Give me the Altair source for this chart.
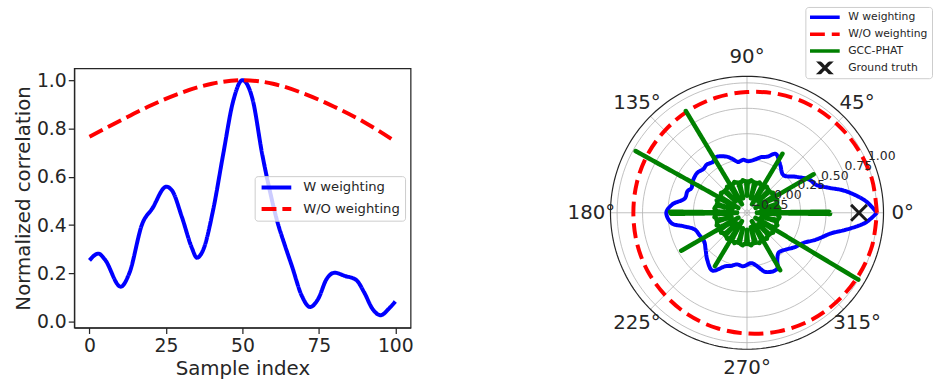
import altair as alt
import pandas as pd

INK = "#262626"
FONT = "DejaVu Sans"

# ---------------- left panel: correlation along the sample axis ----------------
w_idx = [0, 2.9, 5, 10.2, 13, 17.3, 20.5, 25.1, 27, 30.2, 33.5, 35.1, 37.2, 40.4,
         43.7, 46.9, 50, 53.3, 56.5, 59.2, 61.3, 64, 66.2, 69.4, 72.1, 74.8, 77.5,
         80.2, 83.4, 87.2, 89.8, 92.5, 95.2, 97.9, 100]
w_val = [0.254, 0.282, 0.258, 0.145, 0.2, 0.407, 0.468, 0.559, 0.543, 0.434, 0.305,
         0.265, 0.298, 0.461, 0.692, 0.909, 1.0, 0.922, 0.692, 0.529, 0.42, 0.312,
         0.23, 0.108, 0.061, 0.095, 0.176, 0.203, 0.19, 0.173, 0.122, 0.054, 0.027,
         0.054, 0.084]
wo_idx = [0, 10, 20, 30, 40, 50, 60, 70, 80, 90, 100]
wo_val = [0.766, 0.832, 0.895, 0.948, 0.985, 1.0, 0.985, 0.945, 0.89, 0.825, 0.746]

x_ticks = [0, 25, 50, 75, 100]
y_ticks = [0.0, 0.2, 0.4, 0.6, 0.8, 1.0]

# ---------------- right panel: polar response (angle in degrees) ----------------
pw_ang = [0, 5.6, 12.5, 17, 22, 27.9, 36, 46, 55, 64, 70, 76, 82, 89, 94, 99.8,
          105, 110, 119.4, 124, 129.7, 135, 141, 150, 156, 160, 167, 173.5, 180,
          188, 192, 198, 205, 214, 222, 230, 239, 248, 253, 259, 266, 275, 281,
          287.6, 298, 303, 308.6, 317.4, 324, 331.7, 338.7, 346.5, 350, 355.3, 360]
pw_val = [1.0, 0.896, 0.712, 0.564, 0.456, 0.418, 0.324, 0.238, 0.294, 0.367, 0.31,
          0.286, 0.25, 0.23, 0.245, 0.23, 0.27, 0.31, 0.35, 0.325, 0.34, 0.33, 0.35,
          0.34, 0.32, 0.345, 0.35, 0.46, 0.516, 0.47, 0.36, 0.26, 0.24, 0.23, 0.27,
          0.33, 0.385, 0.29, 0.27, 0.24, 0.25, 0.22, 0.26, 0.334, 0.35, 0.27, 0.223,
          0.254, 0.3, 0.35, 0.45, 0.58, 0.70, 0.894, 1.0]

pwo_ang = [0, 15, 30, 45, 60, 75, 90, 105, 120, 135, 150, 165, 180,
           195, 210, 225, 240, 255, 270, 285, 300, 315, 330, 345, 360]
pwo_val = [1.0, 0.995, 0.98, 0.965, 0.95, 0.93, 0.91, 0.895, 0.88, 0.865, 0.855, 0.845, 0.84,
           0.845, 0.855, 0.865, 0.88, 0.895, 0.91, 0.93, 0.95, 0.965, 0.98, 0.995, 1.0]

gcc_ang = [0, 0.8, 1.4, 5, 7.5, 10,
           13.5, 15, 16.5, 20, 22.5, 25,
           28, 29.5, 30, 30.5, 32, 35, 37.5, 40,
           43.5, 45, 46.5, 50, 52.5, 55,
           57, 58.5, 59, 59.5, 61, 65, 67.5, 70,
           73.5, 75, 76.5, 80, 82.5, 85,
           88.5, 90, 91.5, 95, 97.5, 100,
           103.5, 105, 106.5, 110, 112.5, 116,
           119, 120.5, 121, 121.5, 123, 125, 127.5, 130,
           133.5, 135, 136.5, 140, 142.5, 146,
           149, 150.5, 151, 151.5, 153, 155, 157.5, 160,
           163.5, 165, 166.5, 170, 172.5, 175,
           177.5, 178.6, 179.2, 180.8, 181.4, 182.5, 185, 187.5, 190,
           193.5, 195, 196.5, 200, 202.5, 205,
           208, 209.5, 210, 210.5, 212, 215, 217.5, 220,
           223.5, 225, 226.5, 230, 232.5, 235,
           237, 238.5, 239, 239.5, 241, 245, 247.5, 250,
           253.5, 255, 256.5, 260, 262.5, 265,
           268.5, 270, 271.5, 275, 277.5, 280,
           283.5, 285, 286.5, 290, 292.5, 296,
           298, 299.5, 300, 300.5, 302, 305, 307.5, 310,
           313.5, 315, 316.5, 320, 322.5, 325,
           327, 328.5, 329, 329.5, 331, 335, 337.5, 340,
           343.5, 345, 346.5, 350, 352.5, 355,
           357.5, 358.6, 359.2, 360]
gcc_val = [0.54, 0.53, -0.18, 0.03, 0.045, 0.035,
           0.03, -0.13, 0.03, 0.035, 0.045, 0.03,
           0.03, -0.18, 0.48, -0.18, 0.03, 0.035, 0.045, 0.03,
           0.03, -0.12, 0.03, 0.035, 0.045, 0.03,
           0.03, -0.18, 0.40, -0.18, 0.03, 0.035, 0.045, 0.03,
           0.03, -0.13, 0.03, 0.035, 0.045, 0.03,
           0.03, -0.11, 0.03, 0.035, 0.045, 0.03,
           0.03, -0.13, 0.03, 0.04, 0.05, 0.035,
           0.03, -0.18, 0.89, -0.18, 0.03, 0.035, 0.045, 0.03,
           0.03, -0.12, 0.03, 0.035, 0.045, 0.03,
           0.03, -0.18, 0.975, -0.18, 0.03, 0.035, 0.045, 0.03,
           0.03, -0.13, 0.03, 0.04, 0.045, 0.03,
           0.03, -0.18, 0.48, 0.47, -0.18, 0.03, 0.035, 0.045, 0.03,
           0.03, -0.12, 0.03, 0.035, 0.045, 0.03,
           0.03, -0.18, 0.47, -0.18, 0.03, 0.035, 0.045, 0.03,
           0.03, -0.13, 0.03, 0.035, 0.045, 0.03,
           0.03, -0.18, 0.335, -0.18, 0.03, 0.035, 0.045, 0.03,
           0.03, -0.12, 0.03, 0.04, 0.045, 0.03,
           0.03, -0.11, 0.03, 0.035, 0.045, 0.03,
           0.03, -0.13, 0.03, 0.035, 0.045, 0.03,
           0.03, -0.18, 0.375, -0.18, 0.03, 0.035, 0.045, 0.03,
           0.03, -0.12, 0.03, 0.035, 0.045, 0.03,
           0.03, -0.18, 1.0, -0.18, 0.03, 0.035, 0.045, 0.03,
           0.03, -0.13, 0.03, 0.04, 0.045, 0.03,
           0.03, -0.18, 0.54, 0.54]

truth_ang = [0]
truth_val = [0.824]

grid_levels = [-0.25, 0.0, 0.25, 0.5, 0.75, 1.0]
grid_labels = ["\u22120.25", "0.00", "0.25", "0.50", "0.75", "1.00"]
spoke_angles = [0, 45, 90, 135, 180, 225, 270, 315]
spoke_labels = ["0°", "45°", "90°", "135°", "180°", "225°", "270°", "315°"]

polar_names = ["W weighting", "W/O weighting", "GCC-PHAT", "Ground truth"]

# polar frame geometry (radial units)
R_MIN = -0.277      # radial value at the pole
R_MAX = 1.065       # radial value at the outer edge
HALF = 1.42         # half extent of the square frame
LABEL_R = 1.53      # distance of the angle labels from the pole
RLABEL_ANGLE = 22.5

LINE_GLYPH = "M-3,0H3"
CROSS_GLYPH = "M-1.6,-1.6L1.6,1.6M-1.6,1.6L1.6,-1.6"

# ---------------- left panel ----------------
left_names = ["W weighting", "W/O weighting"]
left_df = pd.concat([
    pd.DataFrame({"idx": w_idx, "val": w_val, "series": left_names[0]}),
    pd.DataFrame({"idx": wo_idx, "val": wo_val, "series": left_names[1]}),
])

left_legend = alt.Legend(
    title=None, orient="none", legendX=182.4, legendY=109,
    symbolType=LINE_GLYPH, symbolSize=100, symbolStrokeWidth=4,
    symbolOffset=10, labelOffset=20, padding=5, rowPadding=7.7, clipHeight=13,
    labelFontSize=13.3, labelFont=FONT, labelColor=INK,
    strokeColor="#cccccc", fillColor="rgba(255,255,255,0.8)", cornerRadius=3,
)

left = alt.Chart(left_df).mark_line(strokeWidth=4, interpolate="monotone").encode(
    x=alt.X("idx:Q", scale=alt.Scale(domain=[-5, 105], nice=False, zero=False),
            axis=alt.Axis(values=x_ticks, title="Sample index", labelPadding=3,
                          titlePadding=3, labelFlush=False)),
    y=alt.Y("val:Q", scale=alt.Scale(domain=[-0.024, 1.049], nice=False, zero=False),
            axis=alt.Axis(values=y_ticks, format=".1f", title="Normalized correlation",
                          labelPadding=2, titlePadding=3, labelFlush=False)),
    color=alt.Color("series:N", scale=alt.Scale(domain=left_names, range=["#0000ff", "#ff0000"]),
                    legend=left_legend),
    strokeDash=alt.StrokeDash("series:N", scale=alt.Scale(domain=left_names, range=[[1, 0], [15, 6]]),
                              legend=left_legend),
).properties(width=340, height=262, view=alt.ViewBackground(stroke=INK, strokeWidth=1.25))

# ---------------- right panel ----------------
RAD = f"(datum.v - ({R_MIN}))"
XY = dict(px=f"{RAD} * cos(datum.a * PI / 180)", py=f"{RAD} * sin(datum.a * PI / 180)")

px_enc = alt.X("px:Q", scale=alt.Scale(domain=[-HALF, HALF], nice=False, zero=False), axis=None)
py_enc = alt.Y("py:Q", scale=alt.Scale(domain=[-HALF, HALF], nice=False, zero=False), axis=None)

col_scale = alt.Scale(domain=polar_names, range=["#0000ff", "#ff0000", "#008000", "#1a1a1a"])
dash_scale = alt.Scale(domain=polar_names, range=[[1, 0], [15, 7], [1, 0], [1, 0]])
shape_scale = alt.Scale(domain=polar_names, range=[LINE_GLYPH, LINE_GLYPH, LINE_GLYPH, CROSS_GLYPH])

polar_legend = alt.Legend(
    title=None, orient="none", legendX=205, legendY=-62,
    symbolSize=100, symbolStrokeWidth=3.5,
    symbolOffset=8.7, labelOffset=16.6, padding=4, rowPadding=4, clipHeight=13,
    labelFontSize=10.9, labelFont=FONT, labelColor=INK,
    strokeColor="#cccccc", fillColor="rgba(255,255,255,0.8)", cornerRadius=3,
)

ring_df = pd.DataFrame([{"v": lv, "a": a} for lv in grid_levels for a in range(0, 361, 3)])
rings = alt.Chart(ring_df).transform_calculate(**XY).mark_line(
    color="#b0b0b0", strokeWidth=0.8
).encode(x=px_enc, y=py_enc, detail="v:N", order="a:Q")

spokes = alt.Chart(pd.DataFrame({"a": spoke_angles, "v": R_MAX})).transform_calculate(
    cx="0", cy="0", **XY
).mark_rule(color="#b0b0b0", strokeWidth=0.8).encode(
    x=px_enc, y=py_enc, x2="cx:Q", y2="cy:Q"
)

frame = alt.Chart(pd.DataFrame({"a": list(range(0, 361, 2)), "v": R_MAX})).transform_calculate(
    **XY
).mark_line(color=INK, strokeWidth=1.2).encode(x=px_enc, y=py_enc, order="a:Q")


def curve(ang, val, name, width, interp):
    df = pd.DataFrame({"a": ang, "v": val, "series": name, "k": list(range(len(ang)))})
    return alt.Chart(df).transform_calculate(**XY).mark_line(
        strokeWidth=width, interpolate=interp, strokeJoin="round"
    ).encode(
        x=px_enc, y=py_enc, order="k:Q",
        color=alt.Color("series:N", scale=col_scale, legend=polar_legend),
        strokeDash=alt.StrokeDash("series:N", scale=dash_scale, legend=polar_legend),
    )


blue = curve(pw_ang, pw_val, "W weighting", 4, "catmull-rom")
red = curve(pwo_ang, pwo_val, "W/O weighting", 4, "catmull-rom")
green = curve(gcc_ang, gcc_val, "GCC-PHAT", 4.5, "linear")

truth = alt.Chart(pd.DataFrame({"a": truth_ang, "v": truth_val, "series": "Ground truth"})).transform_calculate(
    **XY
).mark_point(size=100, strokeWidth=3, filled=False, opacity=1).encode(
    x=px_enc, y=py_enc,
    color=alt.Color("series:N", scale=col_scale, legend=polar_legend),
    shape=alt.Shape("series:N", scale=shape_scale, legend=polar_legend),
)

rad_text = alt.Chart(pd.DataFrame({"v": grid_levels, "txt": grid_labels, "a": RLABEL_ANGLE})).transform_calculate(
    **XY
).mark_text(fontSize=12.5, color=INK, align="left", baseline="bottom", dx=1).encode(
    x=px_enc, y=py_enc, text="txt:N"
)

angle_text = alt.Chart(pd.DataFrame({"a": spoke_angles, "txt": spoke_labels})).transform_calculate(
    px=f"{LABEL_R} * cos(datum.a * PI / 180)", py=f"{LABEL_R} * sin(datum.a * PI / 180)"
).mark_text(fontSize=20, color=INK, align="center", baseline="middle").encode(
    x=px_enc, y=py_enc, text="txt:N"
)

polar = alt.layer(rings, spokes, frame, blue, red, green, truth, rad_text, angle_text).properties(
    width=292, height=292, view=alt.ViewBackground(stroke="transparent")
)

chart = alt.hconcat(left, polar, spacing=194, bounds="flush").resolve_scale(
    color="independent", strokeDash="independent", shape="independent"
).resolve_legend(
    color="independent", strokeDash="independent", shape="independent"
).properties(
    padding={"left": 13, "top": 4, "right": 0, "bottom": 0}
).configure(font=FONT).configure_view(strokeWidth=0).configure_axis(
    labelFontSize=19, titleFontSize=20, labelColor=INK, titleColor=INK,
    tickColor=INK, domainColor=INK, tickSize=6, tickWidth=1.25, domainWidth=1.25,
    grid=False, titleFontWeight="normal", labelFont=FONT, titleFont=FONT,
)

chart.save("out.html", embed_options={"renderer": "svg", "actions": False})
